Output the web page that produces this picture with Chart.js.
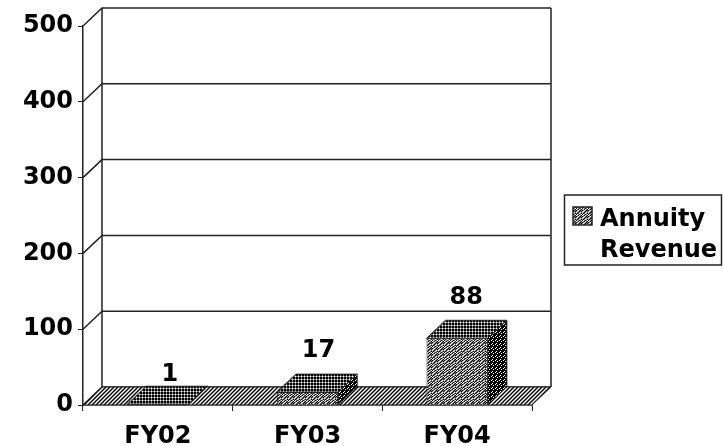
<!DOCTYPE html>
<html>
<head>
<meta charset="utf-8">
<style>
  html, body { margin: 0; padding: 0; background: #fff; }
  canvas { display: block; }
</style>
<script src="https://cdn.jsdelivr.net/npm/chart.js@4/dist/chart.umd.min.js"></script>
</head>
<body>
<canvas id="annuityChart" width="723" height="446"></canvas>
<script>
const categories = ['FY02', 'FY03', 'FY04'];
const annuityRevenue = [1, 17, 88];
const seriesLabel = ['Annuity', 'Revenue'];
const yTicks = [0, 100, 200, 300, 400, 500];

const DEPTH_X = 19;
const DEPTH_Y = 18;
const INK = '#222';
const FONT = 'bold 24px "DejaVu Sans"';
// the value labels do not sit at a constant height above the bars in the original
const labelLift = [5, 17, 16];
const labelShift = [12, 11, 9];

// dithered fills, like the old 256 colour chart export
const SHADES = { '#': '#000', '+': '#808080', '.': '#fff' };
function makePattern(rows) {
    const c = document.createElement('canvas');
    c.width = rows[0].length;
    c.height = rows.length;
    const g = c.getContext('2d');
    rows.forEach((row, y) => {
        [...row].forEach((p, x) => {
            g.fillStyle = SHADES[p];
            g.fillRect(x, y, 1, 1);
        });
    });
    return g.createPattern(c, 'repeat');
}

const ctx = document.getElementById('annuityChart').getContext('2d');
const frontFill = makePattern(['#+.+#+', '+.+#+#', '.+#+.+', '+#+.+#', '#.+#+.', '.+#.+#']);
const topFill = makePattern(['#+#', '+.+', '#+#']);
const sideFill = makePattern(['###.', '#.##', '####', '.###']);
const floorFill = makePattern(['#+.+', '+.+#', '.+#+', '+#+.']);

function polygon(g, pts, fill) {
    g.beginPath();
    pts.forEach((p, i) => i ? g.lineTo(p[0], p[1]) : g.moveTo(p[0], p[1]));
    g.closePath();
    g.fillStyle = fill;
    g.fill();
    g.strokeStyle = INK;
    g.lineWidth = 1;
    g.stroke();
}

// back wall, side wall and floor behind the bars
const wallsPlugin = {
    id: 'walls',
    beforeDatasetsDraw(chart) {
        const g = chart.ctx;
        const { left, right, top, bottom } = chart.chartArea;
        const y = chart.scales.y;
        g.save();
        g.strokeStyle = INK;
        g.lineWidth = 1.5;
        yTicks.forEach(t => {
            const py = y.getPixelForValue(t);
            g.beginPath();
            g.moveTo(left, py);
            g.lineTo(left + DEPTH_X, py - DEPTH_Y);
            g.lineTo(right + DEPTH_X, py - DEPTH_Y);
            g.stroke();
        });
        g.beginPath();
        g.moveTo(left + DEPTH_X, top - DEPTH_Y);
        g.lineTo(left + DEPTH_X, bottom - DEPTH_Y);
        g.moveTo(right + DEPTH_X, top - DEPTH_Y);
        g.lineTo(right + DEPTH_X, bottom - DEPTH_Y);
        g.stroke();
        polygon(g, [[left, bottom], [left + DEPTH_X, bottom - DEPTH_Y], [right + DEPTH_X, bottom - DEPTH_Y], [right, bottom]], floorFill);
        g.restore();
    }
};

// top and side faces of each bar plus the value above it
const barFacesPlugin = {
    id: 'barFaces',
    afterDatasetsDraw(chart) {
        const g = chart.ctx;
        const meta = chart.getDatasetMeta(0);
        g.save();
        meta.data.forEach((bar, i) => {
            const half = bar.width / 2;
            const l = bar.x - half;
            const r = bar.x + half;
            polygon(g, [[l, bar.y], [l + DEPTH_X, bar.y - DEPTH_Y], [r + DEPTH_X, bar.y - DEPTH_Y], [r, bar.y]], topFill);
            polygon(g, [[r, bar.y], [r + DEPTH_X, bar.y - DEPTH_Y], [r + DEPTH_X, bar.base - DEPTH_Y], [r, bar.base]], sideFill);
            g.fillStyle = '#000';
            g.font = FONT;
            g.textAlign = 'center';
            g.textBaseline = 'alphabetic';
            g.fillText(annuityRevenue[i], bar.x + labelShift[i], bar.y - DEPTH_Y - labelLift[i]);
        });
        g.restore();
    }
};

// legend wraps onto two lines so the built-in one does not fit
const boxLegendPlugin = {
    id: 'boxLegend',
    afterDraw(chart) {
        const g = chart.ctx;
        g.save();
        g.strokeStyle = INK;
        g.lineWidth = 1.5;
        g.strokeRect(564.5, 195, 157, 70);
        g.fillStyle = frontFill;
        g.fillRect(573, 207, 19, 18);
        g.strokeRect(573, 207, 19, 18);
        g.fillStyle = '#000';
        g.font = FONT;
        g.textAlign = 'left';
        g.textBaseline = 'alphabetic';
        g.fillText(seriesLabel[0], 600, 226);
        g.fillText(seriesLabel[1], 600, 257);
        g.restore();
    }
};

const annuityChart = new Chart(ctx, {
    type: 'bar',
    data: {
        labels: categories,
        datasets: [{
            label: seriesLabel.join(' '),
            data: annuityRevenue,
            backgroundColor: frontFill,
            borderColor: INK,
            borderWidth: 1,
            barPercentage: 0.41,
            categoryPercentage: 1
        }]
    },
    plugins: [wallsPlugin, barFacesPlugin, boxLegendPlugin],
    options: {
        responsive: false,
        animation: false,
        layout: { padding: { left: 0, right: 191, top: 26, bottom: 0 } },
        plugins: {
            legend: { display: false },
            tooltip: { enabled: false }
        },
        scales: {
            x: {
                afterFit(axis) { axis.height = 41; },
                grid: { drawOnChartArea: false, tickLength: 6, color: INK },
                border: { color: INK, width: 1.5 },
                ticks: { color: '#000', font: { family: 'DejaVu Sans', size: 24, weight: 'bold' }, padding: 11, maxRotation: 0 }
            },
            y: {
                min: 0,
                max: 500,
                afterFit(axis) { axis.width = 83; },
                grid: { drawOnChartArea: false, tickLength: 5, color: INK },
                border: { color: INK, width: 1.5 },
                ticks: { stepSize: 100, color: '#000', font: { family: 'DejaVu Sans', size: 24, weight: 'bold' }, padding: 5 }
            }
        }
    }
});
</script>
</body>
</html>
